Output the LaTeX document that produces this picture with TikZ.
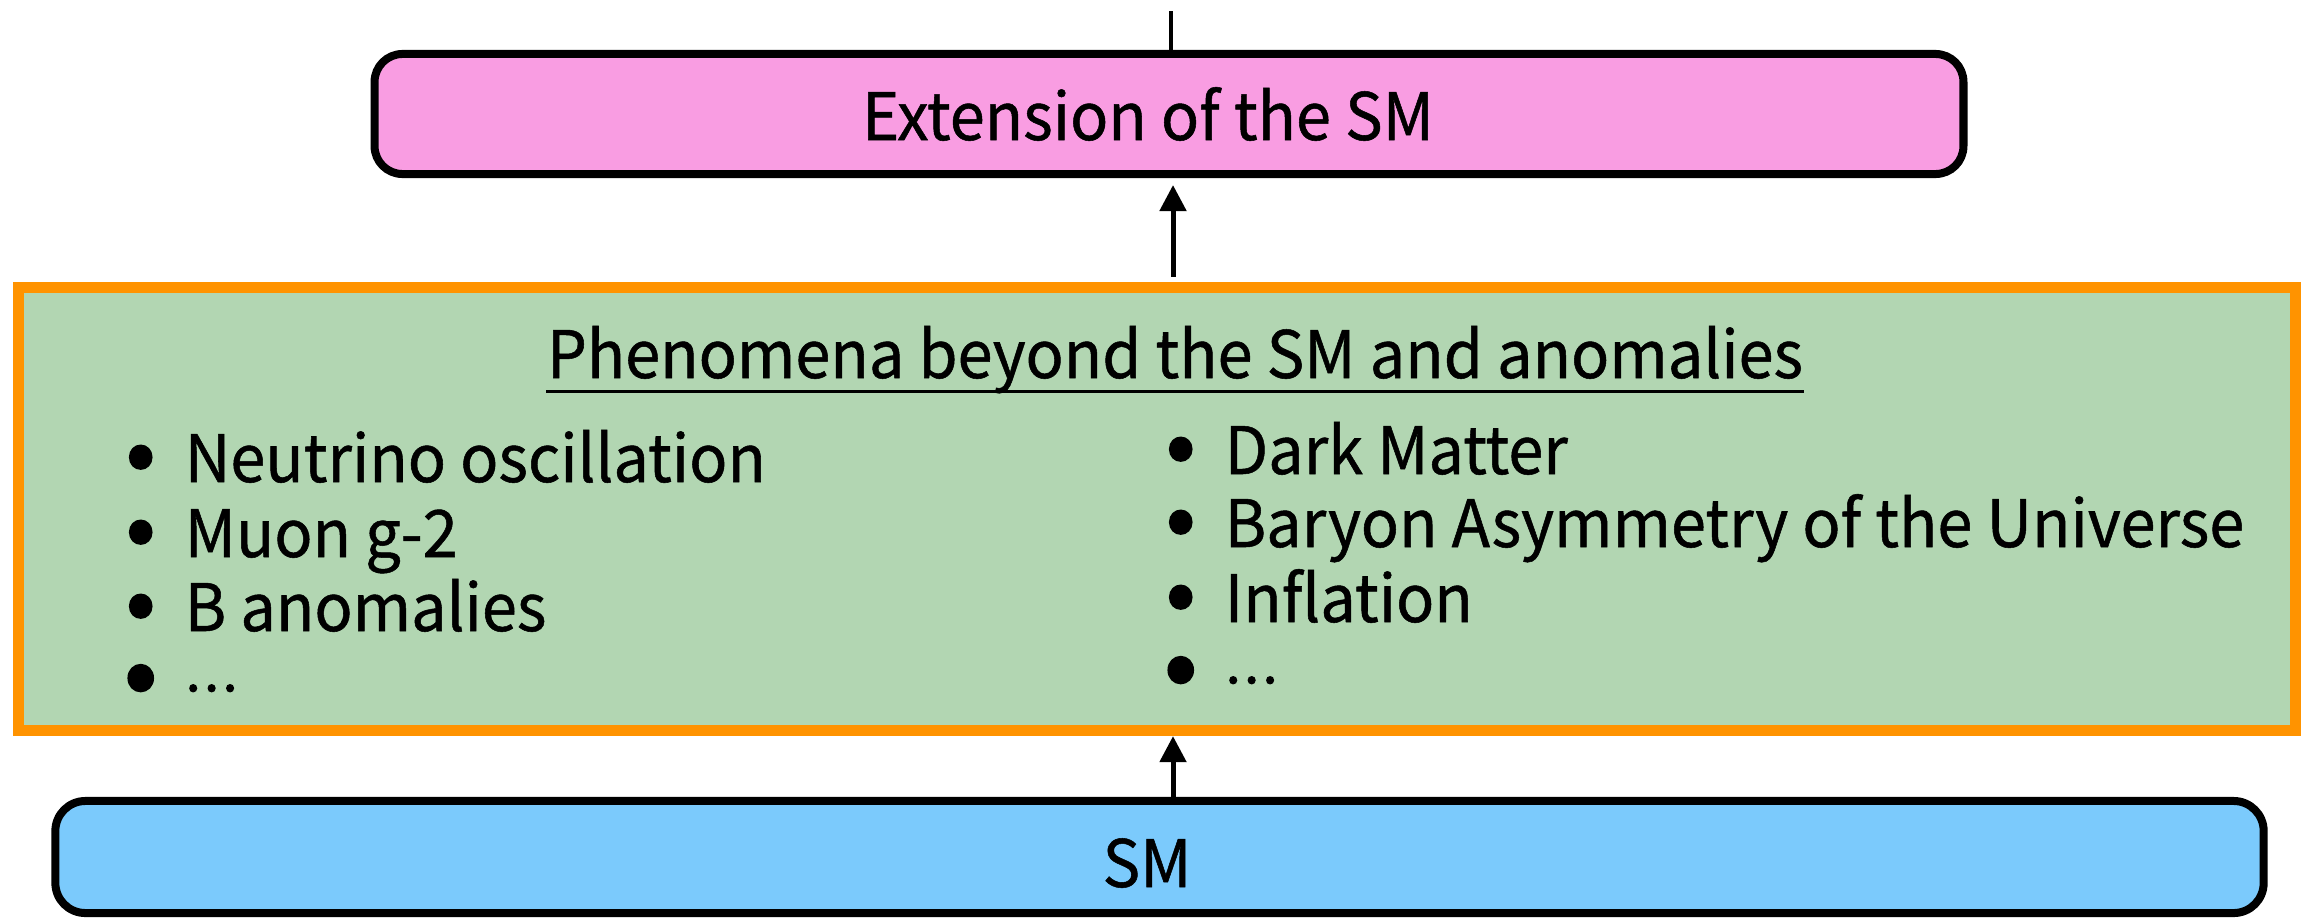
\documentclass[tikz,border=0pt]{standalone}
\usepackage{fontspec}
\setmainfont{Noto Sans CJK KR}[FakeStretch=0.965, FakeBold=0.8]
\newfontfamily\dotsfont{Noto Sans CJK KR}[FakeBold=3]
\usetikzlibrary{arrows.meta}
\definecolor{pinkfill}{RGB}{249,157,226}
\definecolor{greenfill}{RGB}{178,214,178}
\definecolor{orangeline}{RGB}{255,147,0}
\definecolor{bluefill}{RGB}{123,202,252}
\newcommand{\mybul}{\makebox[0.88cm][c]{\dotsfont\fontsize{24pt}{28pt}\selectfont •}}
\newcommand{\mybigbul}{\makebox[0.88cm][c]{\dotsfont\fontsize{27pt}{31pt}\selectfont •}}
\newcommand{\mydots}{{\dotsfont\fontsize{14pt}{18pt}\selectfont ⋯}}
\tikzset{
  rbox/.style={draw=black, line width=0.08cm, rounded corners=0.28cm, inner sep=0pt},
  extbox/.style={rbox, fill=pinkfill, minimum width=15.88cm, minimum height=1.2cm},
  smbox/.style={rbox, fill=bluefill, minimum width=22.07cm, minimum height=1.12cm, rounded corners=0.3cm},
  phenbox/.style={draw=orangeline, fill=greenfill, line width=0.11cm, minimum width=22.75cm, minimum height=4.43cm, inner sep=0pt},
  txt/.style={inner sep=0pt, font=\fontsize{18.6pt}{22pt}\selectfont},
  item/.style={txt, anchor=base west},
  arr/.style={-{Triangle[length=0.26cm,width=0.26cm]}, line width=0.05cm},
}
\begin{document}
\begin{tikzpicture}[x=0.01cm, y=-0.01cm]
\path[use as bounding box, fill=white] (0,0) rectangle (2301,918);
% boxes
\node[extbox] (ext) at (1169,114) {};
\node[phenbox] (phen) at (1157,509) {};
\node[smbox] (sm) at (1159.5,857) {};
% box labels
\node[txt, anchor=base] (extt) at (1148,140) {Extension of the SM};
\node[txt, anchor=base] (smt) at (1147,887) {SM};
\node[txt, anchor=base] (title) at (1175,378) {Phenomena beyond the SM and anomalies};
\draw[line width=0.03cm] ([yshift=-0.13cm]title.base west) -- ([yshift=-0.13cm]title.base east);
% left list
\node[item] (l1) at (96,482) {\mybul Neutrino oscillation};
\node[item] (l2) at (96,557) {\mybul Muon g-2};
\node[item] (l3) at (96,631) {\mybul B anomalies};
\node[item] (l4) at (96,706) {\mybigbul\raisebox{0.15cm}{\mydots}};
% right list
\node[item] (r1) at (1136,474) {\mybul Dark Matter};
\node[item] (r2) at (1136,547) {\mybul Baryon Asymmetry of the Universe};
\node[item] (r3) at (1136,622) {\mybul Inflation};
\node[item] (r4) at (1136,698) {\mybigbul\raisebox{0.15cm}{\mydots}};
% connectors
\coordinate (ax) at (1173,0);
\coordinate (lx) at (1171,0);
\coordinate (topend) at (1171,11);
\draw[arr, shorten <=0.05cm, shorten >=0.07cm] (phen.north -| ax) -- (ext.south -| ax);
\draw[arr] (sm.north -| ax) -- (phen.south -| ax);
\draw[line width=0.04cm] (ext.north -| lx) -- (topend);
\end{tikzpicture}
\end{document}
